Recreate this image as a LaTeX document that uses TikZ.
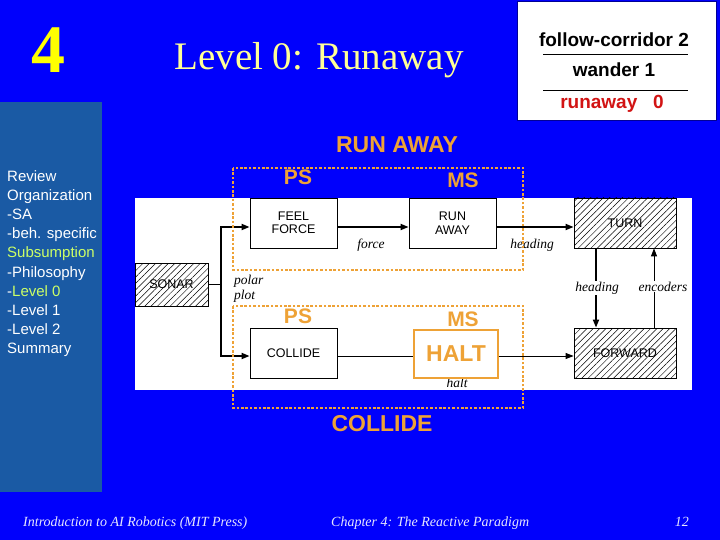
\documentclass[tikz,border=0pt]{standalone}
\usepackage{fontspec}
\setmainfont{Liberation Serif}
\setsansfont{Liberation Sans}
\usetikzlibrary{patterns.meta,arrows.meta}
\definecolor{bg}{RGB}{0,0,252}
\definecolor{sidec}{RGB}{26,90,164}
\definecolor{org}{RGB}{238,162,54}
\definecolor{ttl}{RGB}{255,255,150}
\definecolor{yel}{RGB}{255,255,0}
\definecolor{grn}{RGB}{204,255,102}
\definecolor{rd}{RGB}{210,20,20}
\definecolor{frame}{RGB}{0,0,150}
\tikzset{
  box/.style={draw, line width=0.8pt, fill=white, inner sep=0pt, align=center,
    font=\sffamily\fontsize{12.5}{13.5}\selectfont},
  hbox/.style={draw, line width=0.8pt, inner sep=0pt, align=center,
    pattern={Lines[angle=45,distance=4.5pt,line width=0.5pt]},
    font=\sffamily\fontsize{12.5}{13.5}\selectfont},
  thk/.style={line width=1.8pt, -{Triangle[length=8pt,width=6pt]}},
  thn/.style={line width=0.9pt},
  thnar/.style={line width=0.9pt, -{Triangle[length=8pt,width=6pt]}},
  lbl/.style={font=\itshape\fontsize{13.5}{14}\selectfont, anchor=base, inner sep=1pt},
  dotbox/.style={draw=org, line width=2.6pt, dash pattern=on 2.6pt off 1.8pt},
  big/.style={text=org, font=\sffamily\bfseries\fontsize{23}{25}\selectfont, anchor=base, inner sep=0pt},
  mid/.style={text=org, font=\sffamily\bfseries\fontsize{21}{23}\selectfont, anchor=base, inner sep=0pt},
  sidetxt/.style={text=white, font=\sffamily\fontsize{15}{19}\selectfont, anchor=base west, inner sep=0pt},
  foot/.style={text={rgb,255:red,230;green,230;blue,255}, font=\itshape\fontsize{14}{16}\selectfont, anchor=base west, inner sep=0pt},
  leg/.style={font=\sffamily\bfseries\fontsize{19}{21}\selectfont, anchor=base, inner sep=0pt}
}
\begin{document}
\begin{tikzpicture}[x=1pt,y=-1pt]
\useasboundingbox (0,0) rectangle (720,540);
\fill[bg] (0,0) rectangle (720,540);
\fill[sidec] (0,102) rectangle (102,492);

% title
\node[text=yel, font=\bfseries\fontsize{68}{70}\selectfont, anchor=base, inner sep=0pt] (num) at (48,73) {4};
\node[text=ttl, font=\fontsize{39}{42}\selectfont, anchor=base, inner sep=0pt] (title) at (319,70) {Level 0: Runaway};

% legend box
\draw[fill=white, draw=frame, line width=1pt] (517,2) rectangle (716,121);
\node[leg] (l2) at (614,47) {follow-corridor 2};
\draw[line width=0.8pt] (543,54) -- (688,54);
\node[leg] (l1) at (614,77) {wander 1};
\draw[line width=0.8pt] (543,90) -- (688,90);
\node[leg, text=rd] (l0) at (612,109) {runaway\ \ \ 0};

% sidebar
\node[sidetxt] (s1) at (7,182) {Review};
\node[sidetxt] (s2) at (7,201) {Organization};
\node[sidetxt] (s3) at (7,220) {-SA};
\node[sidetxt] (s4) at (7,239) {-beh. specific};
\node[sidetxt, text=grn] (s5) at (7,258) {Subsumption};
\node[sidetxt] (s6) at (7,277) {-Philosophy};
\node[sidetxt] (s7) at (7,296) {-\textcolor{grn}{Level 0}};
\node[sidetxt] (s8) at (7,315) {-Level 1};
\node[sidetxt] (s9) at (7,334) {-Level 2};
\node[sidetxt] (s10) at (7,353) {Summary};

% diagram background
\fill[white] (135,198) rectangle (692,390);

% boxes
\node[hbox, minimum width=73, minimum height=43] (sonar) at (171.5,284.5) {SONAR};
\node[box, minimum width=87, minimum height=50] (feel) at (293.5,223) {FEEL\\FORCE};
\node[box, minimum width=87, minimum height=50] (run) at (452.5,223) {RUN\\AWAY};
\node[hbox, minimum width=102, minimum height=50] (turn) at (625,223) {TURN};
\node[box, minimum width=87, minimum height=50] (collide) at (293.5,353) {COLLIDE};
\node[hbox, minimum width=102, minimum height=50] (forward) at (625,353) {FORWARD};

% labels
\node[lbl] (force) at (371,248) {force};
\node[lbl] (head1) at (532,248) {heading};
\node[lbl, anchor=base west] (polar) at (233,284) {polar};
\node[lbl, anchor=base west] (plot) at (233,299) {plot};
\node[lbl] (halttxt) at (457,387) {halt};

% connectors
\coordinate (j) at (221,284.5);
\draw[line width=1.8pt] (sonar.east) -- (j);
\draw[thk] (j) |- ([yshift=-4pt]feel.west);
\draw[thk] (j) |- ([yshift=-3pt]collide.west);
\draw[thk] ([yshift=-4pt]feel.east) -- ([yshift=-4pt]run.west);
\draw[thk] ([yshift=-4pt]run.east) -- ([yshift=-4pt]turn.west);
\draw[thk] ([xshift=-29pt]turn.south) -- ([xshift=-29pt]forward.north);
\draw[thnar] ([xshift=29pt]forward.north) -- ([xshift=29pt]turn.south);
\node[lbl, fill=white] (head2) at (597,291) {heading};
\node[lbl, fill=white] (enc) at (663,291) {encoders};

\node[draw=org, line width=1.2pt, fill=white, minimum width=84, minimum height=48, inner sep=0pt,
  text=org, font=\sffamily\bfseries\fontsize{23}{25}\selectfont] (halt) at (456,354) {HALT};
\draw[thn] ([yshift=-3pt]collide.east) -- ([yshift=-2pt]halt.west);
\draw[thnar] ([yshift=-2pt]halt.east) -- ([yshift=-3pt]forward.west);

% behaviour boxes
\draw[dotbox] (233,168) rectangle (523,270);
\draw[dotbox] (233,306) rectangle (523,408);
\node[big] (ra) at (397,153) {RUN AWAY};
\node[big] (co) at (382,431) {COLLIDE};
\node[mid] (ps1) at (298,185) {PS};
\node[mid] (ms1) at (463,188) {MS};
\node[mid] (ps2) at (298,323) {PS};
\node[mid] (ms2) at (463,326) {MS};

% footer
\node[foot] (f1) at (23,526) {Introduction to AI Robotics (MIT Press)};
\node[foot] (f2) at (331,526) {Chapter 4: The Reactive Paradigm};
\node[foot, anchor=base east] (f3) at (689,526) {12};
\end{tikzpicture}
\end{document}
